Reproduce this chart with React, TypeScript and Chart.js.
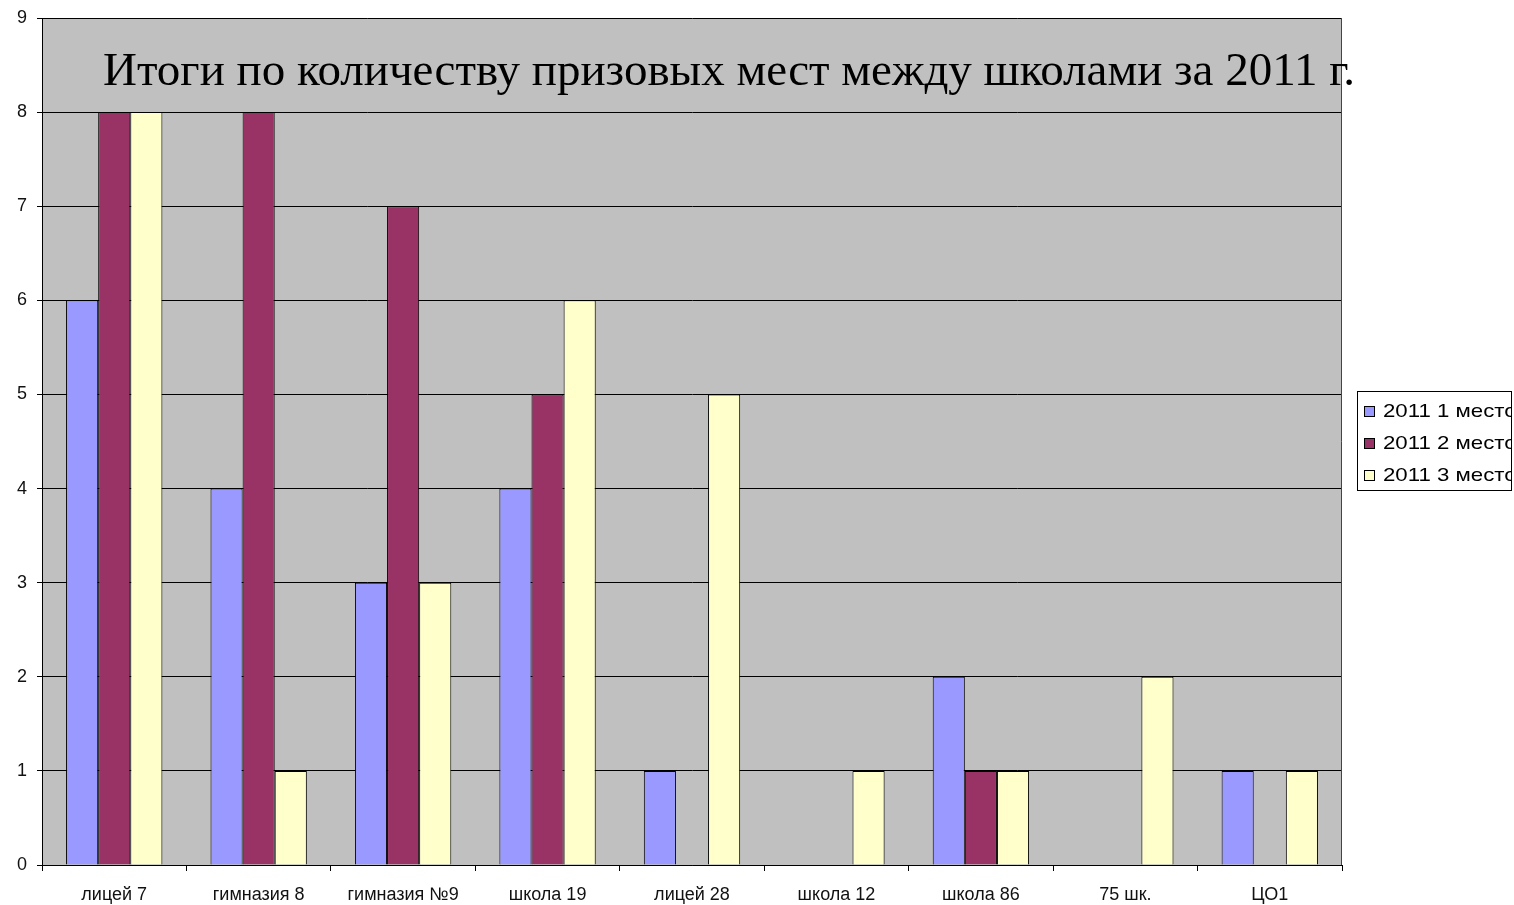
import React, { useEffect, useRef } from "react";
import { Chart, registerables } from "chart.js";

Chart.register(...registerables);

const categories = ["лицей 7", "гимназия 8", "гимназия №9", "школа 19", "лицей 28", "школа 12", "школа 86", "75 шк.", "ЦО1"];
const place1 = [6, 4, 3, 4, 1, 0, 2, 0, 1];
const place2 = [8, 8, 7, 5, 0, 0, 1, 0, 0];
const place3 = [8, 1, 3, 6, 5, 1, 1, 2, 1];
const seriesNames = ["2011 1 место", "2011 2 место", "2011 3 место"];
const seriesColors = ["#9999ff", "#993366", "#ffffcc"];
const titleText = "Итоги по количеству призовых мест между школами за 2011 г.";

const SANS = "'Liberation Sans', Arial, sans-serif";
const SERIF = "'Liberation Serif', 'Times New Roman', serif";

const bgPlugin = {
  id: "plotBg",
  beforeDraw(chart: any) {
    const { ctx, chartArea } = chart;
    ctx.save();
    ctx.fillStyle = "#c0c0c0";
    ctx.fillRect(chartArea.left, chartArea.top, chartArea.right - chartArea.left, chartArea.bottom - chartArea.top);
    ctx.restore();
  },
};

const titlePlugin = {
  id: "innerTitle",
  afterDraw(chart: any) {
    const { ctx, chartArea } = chart;
    ctx.save();
    // right border of plot area
    ctx.strokeStyle = "#444";
    ctx.lineWidth = 1;
    ctx.beginPath();
    ctx.moveTo(Math.round(chartArea.right) - 0.5, chartArea.top);
    ctx.lineTo(Math.round(chartArea.right) - 0.5, chartArea.bottom);
    ctx.stroke();
    ctx.font = `47px ${SERIF}`;
    ctx.fillStyle = "#000";
    ctx.textAlign = "left";
    ctx.textBaseline = "alphabetic";
    ctx.fillText(titleText, chartArea.left + 61, chartArea.top + 67);
    ctx.restore();
  },
};

const legendPlugin = {
  id: "boxLegend",
  afterDraw(chart: any) {
    const { ctx, chartArea } = chart;
    const x = chartArea.right + 15;
    const y = 391;
    const w = 154;
    const h = 99;
    ctx.save();
    ctx.fillStyle = "#ffffff";
    ctx.fillRect(x, y, w, h);
    ctx.strokeStyle = "#000";
    ctx.lineWidth = 1;
    ctx.strokeRect(x + 0.5, y + 0.5, w, h);
    ctx.beginPath();
    ctx.rect(x + 1, y + 1, w - 1, h - 1);
    ctx.clip();
    ctx.font = `19px ${SANS}`;
    ctx.textBaseline = "middle";
    ctx.textAlign = "left";
    const rows = [411, 443, 475];
    seriesNames.forEach((name, i) => {
      const cy = rows[i];
      ctx.fillStyle = seriesColors[i];
      ctx.fillRect(x + 7, cy - 5, 11, 11);
      ctx.strokeStyle = "#000";
      ctx.strokeRect(x + 7.5, cy - 4.5, 10, 10);
      ctx.fillStyle = "#000";
      ctx.save();
      ctx.translate(x + 26, cy + 1);
      ctx.scale(1.17, 1);
      ctx.fillText(name, 0, 0);
      ctx.restore();
    });
    ctx.restore();
  },
};

export default function App() {
  const canvasRef = useRef<HTMLCanvasElement | null>(null);

  useEffect(() => {
    document.body.style.margin = "0";
    document.body.style.overflow = "hidden";
    const canvas = canvasRef.current;
    if (!canvas) return;
    const datasets = [place1, place2, place3].map((vals, i) => ({
      label: seriesNames[i],
      data: vals,
      backgroundColor: seriesColors[i],
      borderColor: "#000",
      borderWidth: 1,
      categoryPercentage: 0.667,
      barPercentage: 1,
    }));
    const chart = new Chart(canvas, {
      type: "bar",
      data: { labels: categories, datasets },
      options: {
        responsive: false,
        animation: false,
        devicePixelRatio: 1,
        layout: { padding: { top: 18, right: 172, left: 0, bottom: 0 } },
        plugins: {
          legend: { display: false },
          title: { display: false },
          tooltip: { enabled: false },
        },
        scales: {
          x: {
            offset: true,
            grid: {
              offset: true,
              drawOnChartArea: false,
              color: "#000",
              tickColor: "#000",
              tickLength: 6,
            },
            border: { color: "#000", width: 1 },
            ticks: {
              color: "#111",
              font: { family: SANS, size: 18 },
              padding: 13,
              maxRotation: 0,
              autoSkip: false,
            },
            afterFit: (s: any) => {
              s.height = 40;
              s.paddingLeft = 0;
              s.paddingRight = 0;
            },
          },
          y: {
            min: 0,
            max: 9,
            grid: { color: "#000", tickColor: "#000", tickLength: 5 },
            border: { color: "#000", width: 1 },
            ticks: {
              stepSize: 1,
              color: "#111",
              font: { family: SANS, size: 18 },
              padding: 10,
            },
            afterFit: (s: any) => {
              s.width = 42;
              s.paddingTop = 0;
              s.paddingBottom = 0;
            },
          },
        },
      },
      plugins: [bgPlugin, titlePlugin, legendPlugin],
    });
    return () => chart.destroy();
  }, []);

  return (
    <canvas
      ref={canvasRef}
      width={1514}
      height={905}
      style={{ display: "block", position: "absolute", left: 0, top: 0, width: 1514, height: 905 }}
    />
  );
}
